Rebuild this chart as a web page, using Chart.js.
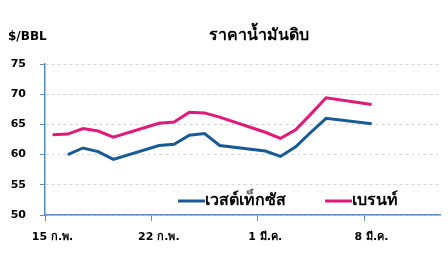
<!DOCTYPE html>
<html>
<head>
<meta charset="utf-8">
<script src="https://cdn.jsdelivr.net/npm/chart.js@4"></script>
<style>
  html, body { margin: 0; padding: 0; background: #fff; }
  #wrap { width: 448px; height: 272px; }
</style>
</head>
<body>
<div id="wrap"><canvas id="oilChart" width="448" height="272"></canvas></div>
<script>
// One slot per calendar day, 15 ก.พ. .. 12 มี.ค. (weekends have no price)
const days = [
    '15 ก.พ.', '16 ก.พ.', '17 ก.พ.', '18 ก.พ.', '19 ก.พ.', '20 ก.พ.', '21 ก.พ.',
    '22 ก.พ.', '23 ก.พ.', '24 ก.พ.', '25 ก.พ.', '26 ก.พ.', '27 ก.พ.', '28 ก.พ.',
    '1 มี.ค.', '2 มี.ค.', '3 มี.ค.', '4 มี.ค.', '5 มี.ค.', '6 มี.ค.', '7 มี.ค.',
    '8 มี.ค.', '9 มี.ค.', '10 มี.ค.', '11 มี.ค.', '12 มี.ค.'
];
const wti = [
    null, 60.0, 61.1, 60.5, 59.2, null, null,
    61.5, 61.7, 63.2, 63.5, 61.5, null, null,
    60.6, 59.7, 61.3, 63.7, 66.0, null, null,
    65.1, null, null, null, null
];
const brent = [
    63.3, 63.4, 64.3, 63.9, 62.9, null, null,
    65.2, 65.4, 67.0, 66.9, 66.2, null, null,
    63.7, 62.7, 64.1, 66.7, 69.4, null, null,
    68.3, null, null, null, null
];
const tickDays = [0, 7, 14, 21];
const yTicks = [50, 55, 60, 65, 70, 75];

const seriesNames = ['เวสต์เท็กซัส', 'เบรนท์'];
const seriesColors = ['#175a96', '#e0197a'];
const axisColor = '#5b8cc0';
const fontFamily = '"DejaVu Sans", "Noto Sans", sans-serif';

// Points sit in the middle of their day slot
function toPoints(values) {
    const pts = [];
    values.forEach((v, i) => {
        if (v !== null) pts.push({ x: i + 0.5, y: v });
    });
    return pts;
}

// Title, unit label and in-plot legend
const decorPlugin = {
    id: 'decor',
    afterDraw(chart) {
        const ctx = chart.ctx;
        ctx.save();
        ctx.fillStyle = '#000';
        ctx.textBaseline = 'middle';

        ctx.font = 'bold 12px ' + fontFamily;
        ctx.textAlign = 'left';
        ctx.fillText('$/BBL', 8, 37);

        ctx.font = 'bold 16px ' + fontFamily;
        ctx.textAlign = 'center';
        ctx.fillText('ราคาน้ำมันดิบ', 259, 36);

        // legend
        const legendY = 201;
        const starts = [178, 325];
        ctx.font = 'bold 16px ' + fontFamily;
        ctx.textAlign = 'left';
        seriesNames.forEach((name, i) => {
            ctx.strokeStyle = seriesColors[i];
            ctx.lineWidth = 3;
            ctx.beginPath();
            ctx.moveTo(starts[i], legendY);
            ctx.lineTo(starts[i] + 27, legendY);
            ctx.stroke();
            ctx.fillStyle = '#000';
            ctx.fillText(name, starts[i] + 27, legendY);
        });
        ctx.restore();
    }
};

const ctx = document.getElementById('oilChart').getContext('2d');
new Chart(ctx, {
    type: 'line',
    data: {
        datasets: [
            {
                label: seriesNames[0],
                data: toPoints(wti),
                borderColor: seriesColors[0],
                borderWidth: 3,
                pointRadius: 0,
                tension: 0,
                fill: false
            },
            {
                label: seriesNames[1],
                data: toPoints(brent),
                borderColor: seriesColors[1],
                borderWidth: 3,
                pointRadius: 0,
                tension: 0,
                fill: false
            }
        ]
    },
    options: {
        responsive: false,
        animation: false,
        devicePixelRatio: 1,
        layout: { padding: { top: 64, right: 8, left: 0, bottom: 0 } },
        plugins: {
            legend: { display: false },
            title: { display: false },
            tooltip: { enabled: false }
        },
        scales: {
            x: {
                type: 'linear',
                min: 0,
                max: 26,
                afterBuildTicks: (scale) => {
                    scale.ticks = tickDays.map(v => ({ value: v }));
                },
                afterFit: (scale) => { scale.height = 57; },
                ticks: {
                    callback: (v) => days[v],
                    color: '#000',
                    font: { family: fontFamily, size: 11, weight: 'bold' },
                    padding: 10,
                    labelOffset: 7.5,
                    maxRotation: 0,
                    autoSkip: false
                },
                grid: {
                    drawOnChartArea: false,
                    drawTicks: true,
                    tickLength: 6,
                    tickColor: axisColor,
                    tickWidth: 1
                },
                border: { color: axisColor, width: 1.5 }
            },
            y: {
                min: 50,
                max: 75,
                afterBuildTicks: (scale) => {
                    scale.ticks = yTicks.map(v => ({ value: v }));
                },
                afterFit: (scale) => { scale.width = 45; },
                ticks: {
                    color: '#000',
                    font: { family: fontFamily, size: 11, weight: 'bold' },
                    padding: 14
                },
                grid: {
                    color: '#d4d4d4',
                    lineWidth: 1,
                    tickLength: 5,
                    tickColor: axisColor,
                    tickBorderDash: []
                },
                border: { color: axisColor, width: 1.5, dash: [3, 3] }
            }
        }
    },
    plugins: [decorPlugin]
});
</script>
</body>
</html>
